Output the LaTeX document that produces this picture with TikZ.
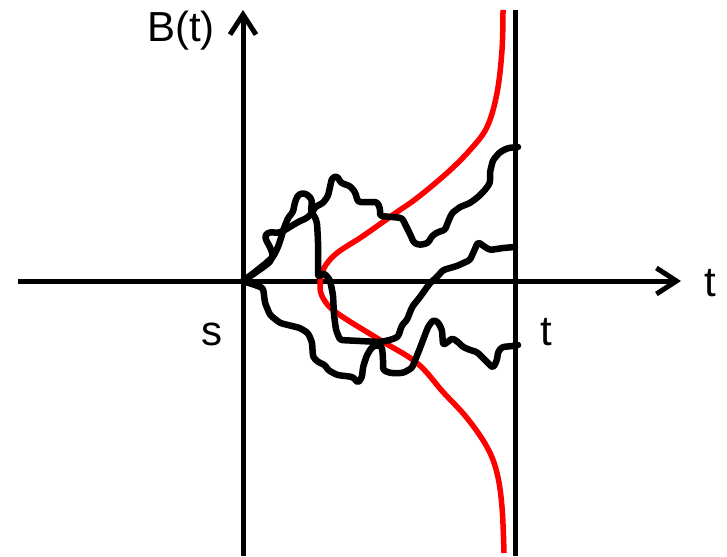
\documentclass[tikz,border=0pt]{standalone}
\usepackage{fontspec}
\setmainfont{Liberation Sans}
\usetikzlibrary{arrows.meta}
\begin{document}
\begin{tikzpicture}[x=1pt,y=-1pt,
  axis/.style={line width=5pt,-{Straight Barb[length=20pt,width=26pt,line width=5pt]}},
  plain/.style={line width=5pt},
  walk/.style={line width=6.5pt,line join=round,line cap=round,rounded corners=2.5pt},
  density/.style={line width=5.5pt,red},
  lbl/.style={font=\fontsize{42}{48}\selectfont,inner sep=0pt}]
\useasboundingbox (0,0) rectangle (727,556);
\coordinate (O) at (243,281);
\coordinate (xs) at (18,281);
\coordinate (xe) at (681,281);
\coordinate (ys) at (243,556);
\coordinate (ye) at (243,10);
\coordinate (ts) at (515,556);
\coordinate (te) at (515,10);
\draw[axis] (xs) -- (xe);
\draw[axis] (ys) -- (ye);
\draw[plain] (ts) -- (te);
\node[lbl,anchor=base west] (Bt) at (147,42) {B(t)};
\node[lbl,anchor=base west] (s) at (201,345) {s};
\node[lbl,anchor=base west] (tt) at (540,345) {t};
\node[lbl,anchor=base west] (tx) at (704,296) {t};
% red density
\draw[density] plot[smooth,tension=0.6] coordinates {
(503,10) (502,50) (497,93) (487,127) (470,150) (447,173) (417,198) (397,212) (363,236) (337,253) (324,268) (320,284) (323,298) (337,313) (380,340) (417,363) (443,392) (467,418) (487,447) (497,473) (502,507) (504,553)};
% path A
\draw[walk] (O) -- (252,275) -- (262,268) -- (270,262) -- (273,255) -- (270,247) -- (266,240) -- (265,235) -- (270,232) -- (278,233) -- (285,230) -- (293,225) -- (300,221) -- (307,218) -- (312,213) -- (315,207) -- (323,203) -- (328,196) -- (330,187) -- (332,178) -- (337,176) -- (341,183) -- (350,186) -- (355,192) -- (358,202) -- (368,202) -- (377,202) -- (380,208) -- (380,216) -- (392,217) -- (402,218) -- (405,224) -- (410,234) -- (414,243) -- (420,245) -- (428,243) -- (432,236) -- (438,232) -- (445,230) -- (448,222) -- (452,213) -- (460,207) -- (470,203) -- (478,197) -- (485,190) -- (490,183) -- (490,172) -- (493,160) -- (500,152) -- (508,148) -- (518,147);
% path B
\draw[walk] (O) -- (255,272) -- (265,264) -- (273,257) -- (278,247) -- (281,238) -- (284,228) -- (288,218) -- (293,212) -- (295,202) -- (298,195) -- (303,193) -- (308,195) -- (312,200) -- (311,212) -- (315,217) -- (317,223) -- (318,240) -- (318,260) -- (318,277) -- (324,273) -- (330,280) -- (333,295) -- (334,315) -- (336,330) -- (340,340) -- (360,341) -- (380,342) -- (390,340) -- (398,337) -- (402,325) -- (407,320) -- (412,307) -- (420,297) -- (430,283) -- (437,277) -- (443,270) -- (457,266) -- (470,260) -- (478,242) -- (485,247) -- (490,250) -- (503,248) -- (515,247);
% path C
\draw[walk] (O) -- (255,285) -- (263,288) -- (264,295) -- (265,303) -- (270,315) -- (280,323) -- (300,328) -- (308,333) -- (312,342) -- (313,357) -- (318,362) -- (325,365) -- (328,370) -- (337,375) -- (353,377) -- (358,383) -- (362,377) -- (363,367) -- (367,355) -- (372,347) -- (377,345) -- (382,347) -- (383,358) -- (383,370) -- (390,373) -- (403,373) -- (412,368) -- (420,348) -- (428,327) -- (433,320) -- (438,322) -- (442,330) -- (443,345) -- (448,342) -- (452,338) -- (458,342) -- (463,347) -- (470,350) -- (477,352) -- (485,360) -- (493,368) -- (497,360) -- (498,352) -- (502,347) -- (513,346) -- (518,345);
\end{tikzpicture}
\end{document}
